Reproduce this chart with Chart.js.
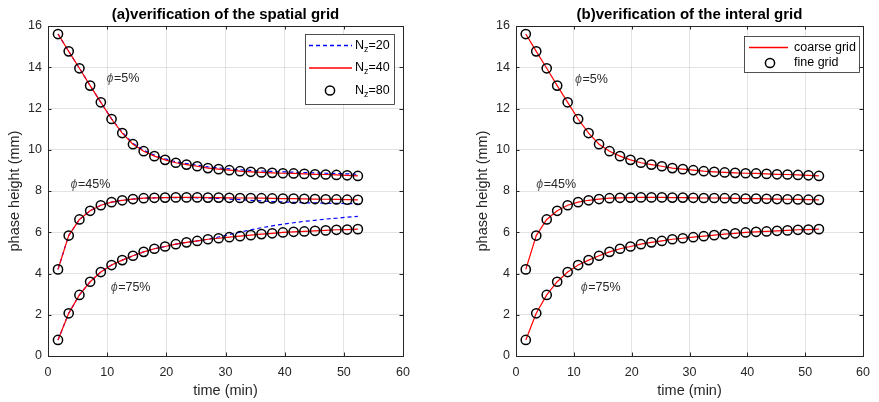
<!DOCTYPE html>
<html>
<head>
<meta charset="utf-8">
<script src="https://cdn.jsdelivr.net/npm/chart.js@4.4.1/dist/chart.umd.min.js"></script>
<style>
  html, body { margin: 0; padding: 0; background: #fff; overflow: hidden; }
  #wrap { position: relative; width: 879px; height: 402px; }
  canvas { position: absolute; top: 0; }
  #chartA { left: 0; }
  #chartB { left: 468px; }
</style>
</head>
<body>
<div id="wrap">
  <canvas id="chartA" width="440" height="402"></canvas>
  <canvas id="chartB" width="411" height="402"></canvas>
</div>
<script>
// sample times (min)
const times = [1.69, 3.50, 5.31, 7.12, 8.93, 10.74, 12.55, 14.36, 16.17, 17.98,
  19.79, 21.60, 23.41, 25.22, 27.03, 28.84, 30.65, 32.46, 34.27, 36.08,
  37.89, 39.70, 41.51, 43.32, 45.13, 46.94, 48.75, 50.56, 52.37];

// phase height (mm), Nz=80 / fine grid
const phi5 = [15.61, 14.77, 13.95, 13.11, 12.30, 11.49, 10.81, 10.27, 9.93, 9.69,
  9.51, 9.37, 9.28, 9.20, 9.11, 9.06, 9.01, 8.96, 8.93, 8.90,
  8.88, 8.86, 8.85, 8.83, 8.81, 8.80, 8.78, 8.76, 8.73];
const phi45 = [4.20, 5.84, 6.62, 7.04, 7.31, 7.46, 7.55, 7.61, 7.65, 7.67,
  7.68, 7.69, 7.69, 7.69, 7.68, 7.68, 7.67, 7.66, 7.66, 7.65,
  7.64, 7.63, 7.63, 7.62, 7.61, 7.60, 7.59, 7.58, 7.57];
const phi75 = [0.78, 2.07, 2.96, 3.60, 4.07, 4.41, 4.65, 4.86, 5.05, 5.20,
  5.31, 5.42, 5.51, 5.58, 5.66, 5.71, 5.76, 5.81, 5.86, 5.91,
  5.95, 5.99, 6.02, 6.04, 6.07, 6.09, 6.12, 6.13, 6.15];

// Nz=40 / coarse grid
const phi5Nz40 = [15.61, 14.77, 13.95, 13.11, 12.30, 11.49, 10.81, 10.27, 9.93, 9.69,
  9.51, 9.37, 9.28, 9.20, 9.11, 9.06, 9.01, 8.96, 8.93, 8.90,
  8.88, 8.86, 8.85, 8.83, 8.81, 8.80, 8.78, 8.76, 8.73];
const phi45Nz40 = [4.20, 5.84, 6.62, 7.04, 7.31, 7.46, 7.55, 7.61, 7.65, 7.67,
  7.68, 7.69, 7.69, 7.69, 7.68, 7.68, 7.67, 7.66, 7.66, 7.65,
  7.64, 7.63, 7.63, 7.62, 7.61, 7.60, 7.59, 7.58, 7.57];
const phi75Nz40 = [0.78, 2.07, 2.96, 3.60, 4.07, 4.41, 4.65, 4.86, 5.05, 5.20,
  5.31, 5.42, 5.51, 5.58, 5.66, 5.71, 5.76, 5.81, 5.86, 5.91,
  5.95, 5.99, 6.02, 6.04, 6.07, 6.09, 6.12, 6.13, 6.15];

// Nz=20
const phi5Nz20 = [15.61, 14.77, 13.95, 13.11, 12.30, 11.50, 10.84, 10.31, 9.97, 9.74,
  9.56, 9.42, 9.33, 9.25, 9.17, 9.12, 9.07, 9.03, 9.00, 8.97,
  8.95, 8.93, 8.91, 8.89, 8.88, 8.86, 8.85, 8.83, 8.81];
const phi45Nz20 = [4.20, 5.84, 6.62, 7.04, 7.31, 7.46, 7.55, 7.61, 7.65, 7.67,
  7.68, 7.68, 7.68, 7.67, 7.66, 7.64, 7.61, 7.58, 7.55, 7.52,
  7.49, 7.47, 7.45, 7.43, 7.42, 7.41, 7.40, 7.39, 7.38];
const phi75Nz20 = [0.78, 2.07, 2.96, 3.60, 4.07, 4.41, 4.65, 4.86, 5.05, 5.20,
  5.31, 5.42, 5.51, 5.58, 5.66, 5.77, 5.89, 6.01, 6.12, 6.22,
  6.31, 6.39, 6.46, 6.53, 6.58, 6.64, 6.68, 6.73, 6.77];

const xTicks = [0, 10, 20, 30, 40, 50, 60];
const yTicks = [0, 2, 4, 6, 8, 10, 12, 14, 16];

const FONT = '"Liberation Sans", Arial, Helvetica, sans-serif';
const INK = '#262626';

function toPoints(ys) {
  return times.map((t, i) => ({ x: t, y: ys[i] }));
}

function lineSet(ys, color, dash) {
  return {
    data: toPoints(ys),
    showLine: true,
    borderColor: color,
    borderWidth: 1.2,
    borderDash: dash || [],
    pointRadius: 0,
    fill: false,
    order: dash ? 3 : 2
  };
}

function circleSet(ys) {
  return {
    data: toPoints(ys),
    showLine: false,
    pointStyle: 'circle',
    pointRadius: 4.6,
    pointBorderWidth: 1.5,
    pointBorderColor: '#000',
    pointBackgroundColor: 'rgba(0,0,0,0)',
    order: 1
  };
}

// axes box with inward ticks, legend box and the phi labels
const framePlugin = {
  id: 'frame',
  afterDraw(chart, args, opts) {
    const ctx = chart.ctx;
    const a = chart.chartArea;
    const sx = chart.scales.x, sy = chart.scales.y;
    ctx.save();

    // phi labels
    opts.notes.forEach(n => {
      const px = sx.getPixelForValue(n.x), py = sy.getPixelForValue(n.y);
      ctx.textBaseline = 'middle';
      ctx.textAlign = 'left';
      ctx.fillStyle = '#555';
      ctx.font = 'italic 12.5px ' + FONT;
      ctx.fillText('\u03d5', px, py);
      const w = ctx.measureText('\u03d5').width;
      ctx.fillStyle = INK;
      ctx.font = '12.5px ' + FONT;
      ctx.fillText(n.text, px + w + 0.5, py);
    });

    // box
    ctx.strokeStyle = INK;
    ctx.lineWidth = 1;
    ctx.strokeRect(Math.round(a.left) + 0.5, Math.round(a.top) + 0.5,
      Math.round(a.right - a.left), Math.round(a.bottom - a.top));

    // inward tick marks on all four sides
    const tl = 3.5;
    ctx.beginPath();
    xTicks.forEach(v => {
      const px = Math.round(sx.getPixelForValue(v)) + 0.5;
      ctx.moveTo(px, a.bottom); ctx.lineTo(px, a.bottom - tl);
      ctx.moveTo(px, a.top); ctx.lineTo(px, a.top + tl);
    });
    yTicks.forEach(v => {
      const py = Math.round(sy.getPixelForValue(v)) + 0.5;
      ctx.moveTo(a.left, py); ctx.lineTo(a.left + tl, py);
      ctx.moveTo(a.right, py); ctx.lineTo(a.right - tl, py);
    });
    ctx.stroke();

    // legend
    const lg = opts.legend;
    ctx.fillStyle = '#fff';
    ctx.fillRect(lg.x, lg.y, lg.w, lg.h);
    ctx.strokeStyle = INK;
    ctx.lineWidth = 0.8;
    ctx.strokeRect(lg.x + 0.5, lg.y + 0.5, lg.w, lg.h);
    lg.rows.forEach((r, i) => {
      const cy = lg.y + lg.rowY[i];
      const x0 = lg.x + lg.sample[0], x1 = lg.x + lg.sample[1];
      if (r.kind === 'circle') {
        ctx.beginPath();
        ctx.arc(lg.x + lg.marker, cy, 4.6, 0, Math.PI * 2);
        ctx.strokeStyle = '#000';
        ctx.lineWidth = 1.5;
        ctx.stroke();
      } else {
        ctx.beginPath();
        ctx.setLineDash(r.kind === 'dash' ? [4, 3] : []);
        ctx.strokeStyle = r.color;
        ctx.lineWidth = 1.4;
        ctx.moveTo(x0, cy); ctx.lineTo(x1, cy);
        ctx.stroke();
        ctx.setLineDash([]);
      }
      let tx = lg.x + lg.textX;
      ctx.fillStyle = '#000';
      ctx.textAlign = 'left';
      ctx.textBaseline = 'middle';
      ctx.font = '12.5px ' + FONT;
      ctx.fillText(r.text, tx, cy);
      tx += ctx.measureText(r.text).width;
      if (r.sub) {
        ctx.font = '9px ' + FONT;
        ctx.fillText(r.sub, tx, cy + 4);
        tx += ctx.measureText(r.sub).width;
        ctx.font = '12.5px ' + FONT;
        ctx.fillText(r.rest, tx, cy);
      }
    });
    ctx.restore();
  }
};

function buildChart(id, title, datasets, frameOpts, padRight) {
  return new Chart(document.getElementById(id), {
    type: 'scatter',
    data: { datasets: datasets },
    options: {
      responsive: false,
      animation: false,
      devicePixelRatio: 1,
      layout: { padding: { left: 0, right: padRight, top: 0, bottom: 0 } },
      plugins: {
        legend: { display: false },
        tooltip: { enabled: false },
        title: {
          display: true,
          text: title,
          fullSize: false,
          color: '#000',
          font: { family: FONT, size: 15, weight: 'bold', lineHeight: 1.2 },
          padding: { top: 6, bottom: 2 }
        },
        frame: frameOpts
      },
      scales: {
        x: {
          type: 'linear',
          min: 0, max: 60,
          afterBuildTicks: s => { s.ticks = xTicks.map(v => ({ value: v })); },
          afterFit: s => { s.height = 46; },
          border: { display: false },
          grid: { color: 'rgba(38,38,38,0.13)', drawTicks: false },
          ticks: { color: INK, padding: 9, font: { family: FONT, size: 12.5 } },
          title: {
            display: true, text: 'time (min)', color: INK,
            font: { family: FONT, size: 14.5, lineHeight: 1.2 },
            padding: { top: 0, bottom: 2.3 }
          }
        },
        y: {
          type: 'linear',
          min: 0, max: 16,
          afterBuildTicks: s => { s.ticks = yTicks.map(v => ({ value: v })); },
          afterFit: s => { s.width = 48; },
          border: { display: false },
          grid: { color: 'rgba(38,38,38,0.13)', drawTicks: false },
          ticks: { color: INK, padding: 6, font: { family: FONT, size: 12.5 } },
          title: {
            display: true, text: 'phase height (mm)', color: INK,
            font: { family: FONT, size: 14.5, lineHeight: 1.2 },
            padding: { top: 6.3, bottom: 0 }
          }
        }
      }
    },
    plugins: [framePlugin]
  });
}

// (a) spatial grid: Nz = 20 / 40 / 80
buildChart('chartA', '(a)verification of the spatial grid', [
  lineSet(phi5Nz20, '#0000ff', [4, 3]),
  lineSet(phi45Nz20, '#0000ff', [4, 3]),
  lineSet(phi75Nz20, '#0000ff', [4, 3]),
  lineSet(phi5Nz40, '#ff0000'),
  lineSet(phi45Nz40, '#ff0000'),
  lineSet(phi75Nz40, '#ff0000'),
  circleSet(phi5),
  circleSet(phi45),
  circleSet(phi75)
], {
  notes: [
    { x: 9.9, y: 13.45, text: '=5%' },
    { x: 3.8, y: 8.33, text: '=45%' },
    { x: 10.6, y: 3.34, text: '=75%' }
  ],
  legend: {
    x: 305, y: 34, w: 89, h: 70,
    rowY: [11.5, 34, 56.5],
    sample: [4, 47], marker: 25, textX: 50,
    rows: [
      { kind: 'dash', color: '#0000ff', text: 'N', sub: 'z', rest: '=20' },
      { kind: 'line', color: '#ff0000', text: 'N', sub: 'z', rest: '=40' },
      { kind: 'circle', text: 'N', sub: 'z', rest: '=80' }
    ]
  }
}, 37);

// (b) coarse vs fine grid
buildChart('chartB', '(b)verification of the interal grid', [
  lineSet(phi5Nz40, '#ff0000'),
  lineSet(phi45Nz40, '#ff0000'),
  lineSet(phi75Nz40, '#ff0000'),
  circleSet(phi5),
  circleSet(phi45),
  circleSet(phi75)
], {
  notes: [
    { x: 10.2, y: 13.4, text: '=5%' },
    { x: 3.5, y: 8.3, text: '=45%' },
    { x: 11.2, y: 3.3, text: '=75%' }
  ],
  legend: {
    x: 276, y: 36, w: 115, h: 36,
    rowY: [11.5, 27],
    sample: [5, 44], marker: 26, textX: 50,
    rows: [
      { kind: 'line', color: '#ff0000', text: 'coarse grid' },
      { kind: 'circle', text: 'fine grid' }
    ]
  }
}, 8);
</script>
</body>
</html>
